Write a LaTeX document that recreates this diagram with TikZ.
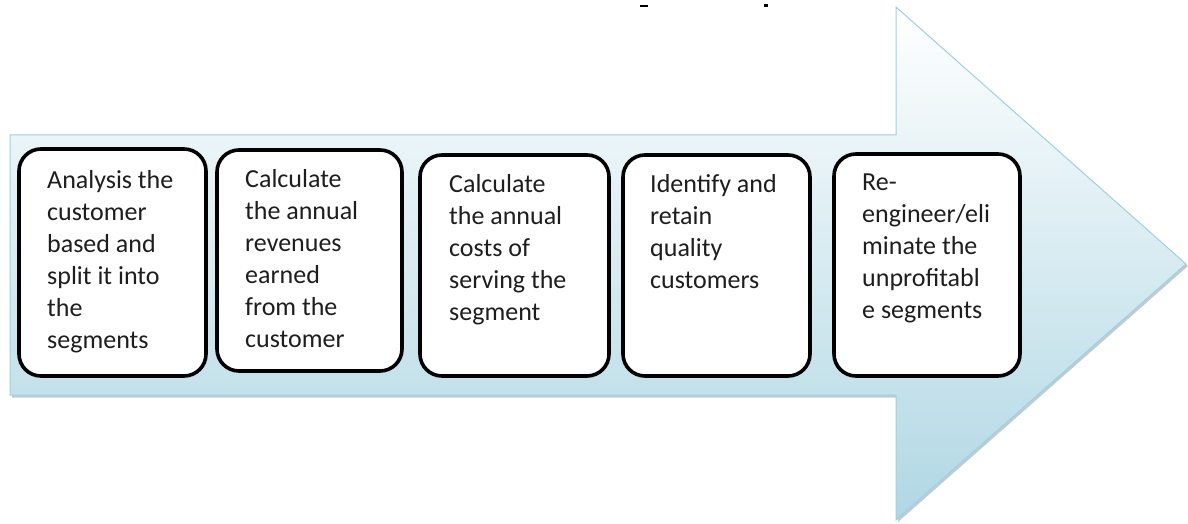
\documentclass[tikz,border=0pt]{standalone}
\usepackage{fontspec}
\setmainfont{Carlito}
\definecolor{arrowline}{RGB}{160,208,224}
\definecolor{arrowbot}{RGB}{176,215,228}
\definecolor{shadowc}{RGB}{150,170,180}
\definecolor{txt}{RGB}{30,30,30}
\tikzset{
  stepbox/.style={draw=black, line width=3.6pt, rounded corners=22pt, fill=white, inner sep=0pt},
  steptext/.style={anchor=base west, align=left, inner sep=0pt, text=txt,
    font=\fontsize{26}{32}\selectfont},
}
\begin{document}
\begin{tikzpicture}[x=1pt,y=-1pt]
\useasboundingbox (0,0) rectangle (1188,524);
% shadow
\fill[shadowc, opacity=0.6] (12,137) -- (898,137) -- (898,9) -- (1188,266) -- (898,522) -- (898,397.5) -- (12,397.5) -- cycle;
% arrow
\shade[top color=white, bottom color=arrowbot, draw=arrowline, line width=1pt]
  (10,135) -- (896,135) -- (896,7) -- (1186,264) -- (896,520) -- (896,395) -- (10,395) -- cycle;
% cut-off marks at top
\fill[black] (640,5) rectangle (648,7.2);
\fill[black] (764,4.5) rectangle (768,7.2);
% boxes
\node[stepbox, minimum width=187pt, minimum height=227pt] (b1) at (112.5,262.5) {};
\node[stepbox, minimum width=185pt, minimum height=221pt] (b2) at (309.5,260.5) {};
\node[stepbox, minimum width=189pt, minimum height=221pt] (b3) at (514.5,265.5) {};
\node[stepbox, minimum width=187pt, minimum height=221pt] (b4) at (716.5,265.5) {};
\node[stepbox, minimum width=186pt, minimum height=222pt] (b5) at (927,265) {};
% texts (anchored at the baseline of the last line)
\node[steptext] (t1) at (47,348) {Analysis the\\customer\\based and\\split it into\\the\\segments};
\node[steptext] (t2) at (245,347) {Calculate\\the annual\\revenues\\earned\\from the\\customer};
\node[steptext] (t3) at (449,320) {Calculate\\the annual\\costs of\\serving the\\segment};
\node[steptext] (t4) at (650,288) {Identify and\\retain\\quality\\customers};
\node[steptext] (t5) at (862,318) {Re-\\engineer/eli\\minate the\\unprofitabl\\e segments};
\end{tikzpicture}
\end{document}
